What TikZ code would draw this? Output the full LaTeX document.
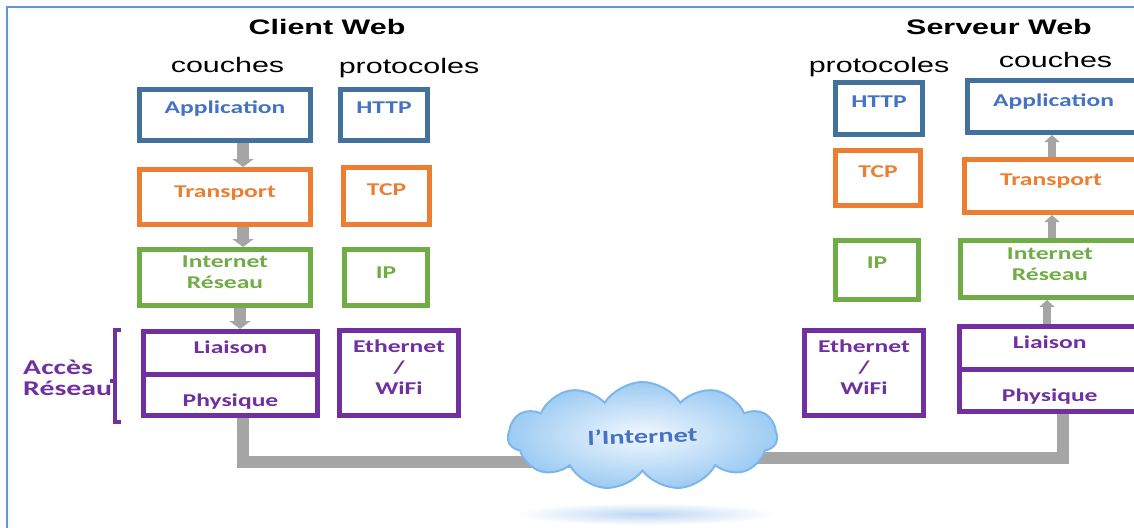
\documentclass[tikz,border=0pt]{standalone}
\usepackage{fontspec}
\setmainfont{Liberation Sans}
\newfontfamily\headfont{Liberation Sans}[FakeStretch=1.45]
\newfontfamily\lblfont{Carlito}[FakeStretch=1.42]
\usetikzlibrary{shapes.symbols,arrows.meta,backgrounds}
\definecolor{cblue}{HTML}{41719C}
\definecolor{tblue}{HTML}{4472C4}
\definecolor{corange}{HTML}{ED7D31}
\definecolor{cgreen}{HTML}{70AD47}
\definecolor{cpurple}{HTML}{7030A0}
\definecolor{cgray}{HTML}{A5A5A5}
\definecolor{cframe}{HTML}{5B9BD5}
\definecolor{cloudin}{HTML}{F2F8FE}
\definecolor{cloudout}{HTML}{9CCBF3}
\definecolor{cloudedge}{HTML}{7DB7EA}
\definecolor{shadowc}{HTML}{BBD6F4}
\newcommand\lift[2][5pt]{\raisebox{\dimexpr#1-5.8pt\relax}[0pt][0pt]{\begin{tabular}{@{}c@{}}#2\end{tabular}}}
\begin{document}
\begin{tikzpicture}[x=1pt,y=-1pt,
  box/.style 2 args={draw=#1, text=#2, line width=5pt, inner sep=0pt, fill=white,
     font=\lblfont\fontsize{18}{21}\selectfont\bfseries},
  heading/.style={font=\headfont\fontsize{21}{25}\selectfont\bfseries, anchor=base, inner sep=0pt},
  subhead/.style={font=\headfont\fontsize{21}{25}\selectfont, anchor=base, inner sep=0pt},
  bigarrow/.style={draw=cgray, line width=12pt, -{Triangle[width=21pt,length=8pt]}},
  smallarrow/.style={draw=cgray, line width=8pt, -{Triangle[width=15pt,length=7pt]}},
  cable/.style={draw=cgray, line width=12pt},
]
\useasboundingbox (0,0) rectangle (1134,527);
\draw[cframe, line width=2pt] (7.3,535) -- (7.3,6.7) -- (1140,6.7);

% titles
\node[heading] (tclient) at (327,35) {Client Web};
\node[heading] (tserver) at (999,35) {Serveur Web};
\node[subhead] (ccouches) at (227.5,73) {couches};
\node[subhead] (cproto) at (409,74) {protocoles};
\node[subhead] (sproto) at (879,72) {protocoles};
\node[subhead] (scouches) at (1055.5,67) {couches};

% client boxes
\node[box={cblue}{tblue}, minimum width=171pt, minimum height=51pt] (capp) at (225,115) {\lift[7pt]{Application}};
\node[box={cblue}{tblue}, minimum width=87pt, minimum height=51pt] (chttp) at (384,115) {\lift[7pt]{HTTP}};
\node[box={corange}{corange}, minimum width=171pt, minimum height=55pt] (ctrans) at (225,197) {\lift{Transport}};
\node[box={corange}{corange}, minimum width=86pt, minimum height=57pt] (ctcp) at (386.5,196) {\lift[6pt]{TCP}};
\node[box={cgreen}{cgreen}, minimum width=171pt, minimum height=56pt] (cnet) at (225,277.5) {\lift{Internet\\Réseau}};
\node[box={cgreen}{cgreen}, minimum width=83pt, minimum height=56pt] (cip) at (386,277.5) {\lift{IP}};
\node[box={cpurple}{cpurple}, minimum width=174pt, minimum height=42.5pt] (cliaison) at (230.5,352.75) {\lift[4.5pt]{Liaison}};
\node[box={cpurple}{cpurple}, minimum width=174pt, minimum height=41.5pt] (cphys) at (230.5,394.75) {\lift[-6.25pt]{Physique}};
\node[box={cpurple}{cpurple}, minimum width=119pt, minimum height=85pt] (ceth) at (399,373) {\lift{Ethernet\\/\\WiFi}};

% server boxes
\node[box={cblue}{tblue}, minimum width=87pt, minimum height=52pt] (shttp) at (879,108.5) {\lift[6.5pt]{HTTP}};
\node[box={cblue}{tblue}, minimum width=172pt, minimum height=52pt] (sapp) at (1053.5,106.5) {\lift[5.5pt]{Application}};
\node[box={corange}{corange}, minimum width=85pt, minimum height=55pt] (stcp) at (878,178) {\lift[6pt]{TCP}};
\node[box={corange}{corange}, minimum width=173.5pt, minimum height=53pt] (strans) at (1051,186) {\lift[6pt]{Transport}};
\node[box={cgreen}{cgreen}, minimum width=83pt, minimum height=59pt] (sip) at (877,270) {\lift[7pt]{IP}};
\node[box={cgreen}{cgreen}, minimum width=179.5pt, minimum height=57pt] (snet) at (1050,269) {\lift{Internet\\Réseau}};
\node[box={cpurple}{cpurple}, minimum width=180.5pt, minimum height=42.5pt] (sliaison) at (1049.75,347.75) {\lift[4.5pt]{Liaison}};
\node[box={cpurple}{cpurple}, minimum width=180.5pt, minimum height=42.5pt] (sphys) at (1049.75,390.25) {\lift[-6pt]{Physique}};
\node[box={cpurple}{cpurple}, minimum width=119pt, minimum height=85pt] (seth) at (864,373) {\lift{Ethernet\\/\\WiFi}};

% acces reseau
\node[font=\lblfont\fontsize{21}{20.5}\selectfont\bfseries, text=cpurple, align=left, anchor=west, inner sep=0pt] (acces) at (23,378) {Accès\\Réseau};
\draw[cpurple, line width=4pt] (121,330) -- (115,330) -- (115,422) -- (121,422);
\draw[cpurple, line width=4pt] (115,381) -- (110,381);

% arrows client
\coordinate (a1) at ([xshift=18pt]capp.south);
\draw[bigarrow] (a1) -- (a1 |- ctrans.north);
\coordinate (a2) at ([xshift=18pt]ctrans.south);
\draw[bigarrow] (a2) -- (a2 |- cnet.north);
\coordinate (a3) at ([xshift=15pt]cnet.south);
\draw[bigarrow] (a3) -- (a3 |- cliaison.north);

% arrows server
\coordinate (b1) at ([xshift=1pt]strans.north);
\draw[smallarrow] (b1) -- (b1 |- sapp.south);
\coordinate (b2) at ([xshift=2pt]snet.north);
\draw[smallarrow] (b2) -- (b2 |- strans.south);
\coordinate (b3) at ([xshift=-2.75pt]sliaison.north);
\draw[smallarrow] (b3) -- (b3 |- snet.south);

% shadow under cloud
\shade[inner color=shadowc, outer color=white] (645,514) ellipse [x radius=132pt, y radius=11pt];

% cloud
\node[cloud, cloud puffs=11, cloud puff arc=115, aspect=2.5, draw=cloudedge, line width=2pt,
      shade, inner color=cloudin, outer color=cloudout, minimum width=269pt, minimum height=108pt,
      inner sep=0pt, font=\lblfont\fontsize{20}{24}\selectfont\bfseries, text=tblue] (cloud) at (642.5,436) {\rotatebox{2}{l’Internet}};

% cables
\begin{pgfonlayer}{background}
\coordinate (p1) at ([xshift=12.5pt]cphys.south);
\draw[cable] (p1) |- ([yshift=-26pt]cloud.center);
\coordinate (p2) at ([xshift=13.25pt]sphys.south);
\draw[cable] (p2) |- ([yshift=-22pt]cloud.center);
\end{pgfonlayer}
\end{tikzpicture}
\end{document}
